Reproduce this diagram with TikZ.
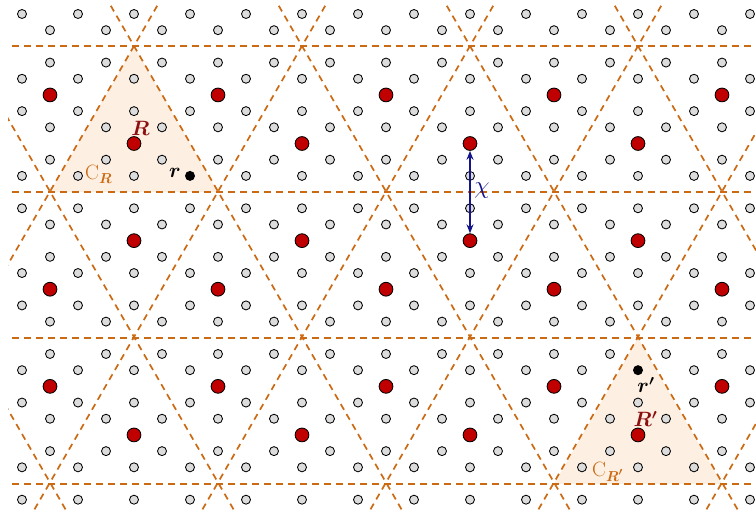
\documentclass[tikz,border=0pt]{standalone}
\usepackage{amsmath}
\usetikzlibrary{arrows.meta}
\definecolor{lineor}{RGB}{204,106,20}
\definecolor{shadeor}{RGB}{253,240,226}
\definecolor{dotred}{RGB}{192,0,0}
\definecolor{labred}{RGB}{140,15,15}
\definecolor{chiblue}{RGB}{20,20,140}
\definecolor{sitegray}{RGB}{220,220,220}
\begin{document}
\begin{tikzpicture}[x=1pt,y=-1pt,
  dline/.style={draw=lineor, line width=1.7pt, dash pattern=on 6.5pt off 5pt},
  hline/.style={draw=lineor, line width=2pt, dash pattern=on 7pt off 5pt},
  sitecirc/.style={fill=sitegray, draw=black, line width=0.85pt},
  reddot/.style={circle, fill=dotred, draw=black, line width=0.85pt, minimum size=13.8pt, inner sep=0pt},
  blackdot/.style={fill=black},
  lab/.style={font=\fontsize{22}{26}\selectfont, inner sep=0pt},
  chiarrow/.style={draw=chiblue, line width=1.4pt, {Stealth[length=9pt,width=7pt]}-{Stealth[length=9pt,width=7pt]}}
]
\def\dy{16.19}
\useasboundingbox (0,0) rectangle (756,510);
\clip (0,0) rectangle (756,510);
% shaded cells
\fill[shadeor] (134,46) -- (50,192) -- (218,192) -- cycle;
\fill[shadeor] (638,338) -- (554,484) -- (722,484) -- cycle;
% dashed superlattice
\begin{scope}
  \clip (8,6) rectangle (770,520);
  \foreach \yy in {46,192,338,484}
    \draw[hline] (12,\yy) -- (770,\yy);
  \foreach \k in {-4,...,4}
    \draw[dline] (134+168*\k-57.735,46-100) -- (134+168*\k+346.41,46+600);
  \foreach \k in {-1,...,6}
    \draw[dline] (134+168*\k+57.735,46-100) -- (134+168*\k-346.41,46+600);
\end{scope}
% honeycomb sites
\foreach \j in {0,...,30}{
  \foreach \i in {0,...,26}{
    \pgfmathtruncatemacro\pp{mod(\i+\j,2)}
    \pgfmathtruncatemacro\jm{mod(\j,3)}
    \pgfmathtruncatemacro\skipme{((\i==6)&&(\j==10))||((\i==22)&&(\j==22)) ? 1 : 0}
    \ifnum\pp=0 \ifnum\jm=2 \else \ifnum\skipme=0
      \filldraw[sitecirc] (22+28*\i,14+\j*\dy) circle[radius=4.5pt];
    \fi\fi\fi
  }
}
% red sites
\foreach \j in {5,17,23}
  \foreach \x in {50,218,386,554,722}
    \node[reddot] (red-\j-\x) at (\x,14+\j*\dy) {};
\foreach \j in {8,14,26}
  \foreach \x in {134,302,470,638}
    \node[reddot] (red-\j-\x) at (\x,14+\j*\dy) {};
% black points r and r'
\fill[blackdot] (190,14+10*\dy) circle[radius=5pt];
\fill[blackdot] (638,14+22*\dy) circle[radius=5pt];
% chi arrow
\draw[chiarrow] (red-8-470) -- (red-14-470);
\node[lab, text=chiblue, font=\fontsize{23}{27}\selectfont] (chi) at (482,191) {$\chi$};
% labels
\node[lab, text=labred, anchor=base] (Rlab) at (140.5,136) {$\boldsymbol{R}$};
\node[lab, text=lineor, anchor=base west] (CR) at (85,180) {$\mathrm{C}_{\boldsymbol{R}}$};
\node[lab, anchor=base] (rlab) at (175,178) {$\boldsymbol{r}$};
\node[lab, anchor=base] (rplab) at (646,393) {$\boldsymbol{r'}$};
\node[lab, text=labred, anchor=base] (Rplab) at (645.5,427) {$\boldsymbol{R'}$};
\node[lab, text=lineor, anchor=base west] (CRp) at (592,477) {$\mathrm{C}_{\boldsymbol{R'}}$};
\end{tikzpicture}
\end{document}
